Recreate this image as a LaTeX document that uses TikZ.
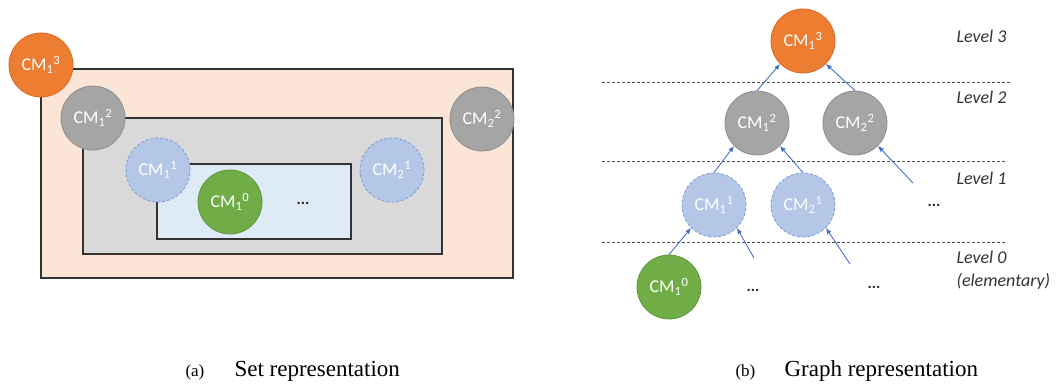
\documentclass[tikz,border=0pt]{standalone}
\usepackage{fontspec}
\setmainfont{Carlito}
\newfontfamily\capfont{Liberation Serif}
\usetikzlibrary{arrows.meta}
\definecolor{orangeF}{HTML}{ED7D31}
\definecolor{orangeD}{HTML}{D8692A}
\definecolor{greyF}{HTML}{A5A5A5}
\definecolor{greyD}{HTML}{8E8E8E}
\definecolor{greenF}{HTML}{70AD47}
\definecolor{greenD}{HTML}{5E963A}
\definecolor{blueF}{HTML}{B4C7E7}
\definecolor{blueD}{HTML}{7C9CD6}
\definecolor{peach}{HTML}{FBE5D6}
\definecolor{lgrey}{HTML}{D9D9D9}
\definecolor{lblue}{HTML}{DEEBF7}
\definecolor{arrowc}{HTML}{4472C4}
\definecolor{txtgrey}{HTML}{333333}
\newcommand{\cmlab}[2]{CM\textsubscript{#1}\textsuperscript{#2}}
\tikzset{
  cmnode/.style={circle, minimum size=64pt, inner sep=0pt, text=white, font=\fontsize{18}{21}\selectfont, line width=0.8pt},
  orangec/.style={cmnode, fill=orangeF, draw=orangeD},
  greyc/.style={cmnode, fill=greyF, draw=greyD},
  greenc/.style={cmnode, fill=greenF, draw=greenD},
  bluec/.style={cmnode, fill=blueF, draw=blueD, dashed, dash pattern=on 3pt off 2pt},
  setbox/.style={draw=txtgrey, line width=1.2pt},
  dots/.style={font=\fontsize{16}{18}\selectfont\bfseries, text=black!85},
  levellab/.style={anchor=base west, font=\fontsize{18}{21}\selectfont\itshape, text=txtgrey},
  levelline/.style={draw=txtgrey!85, line width=0.9pt, dash pattern=on 3pt off 2pt},
  arr/.style={draw=arrowc, line width=0.9pt, -{Latex[length=6pt,width=5pt]}},
  capsmall/.style={anchor=base west, font=\capfont\fontsize{17}{20}\selectfont},
  capbig/.style={anchor=base west, font=\capfont\fontsize{23}{26}\selectfont},
}
\begin{document}
\begin{tikzpicture}[x=1pt, y=-1pt]
\useasboundingbox (0,0) rectangle (1057,383);
% ---------- (a) set representation ----------
\draw[setbox, fill=peach] (41,69) rectangle (513,278);
\draw[setbox, fill=lgrey] (83,118) rectangle (442,254);
\draw[setbox, fill=lblue] (157,164) rectangle (351,239);
\node[orangec] (s13) at (41,65) {\cmlab{1}{3}};
\node[greyc] (s12) at (93,118) {\cmlab{1}{2}};
\node[greyc] (s22) at (482,119) {\cmlab{2}{2}};
\node[bluec] (s11) at (158,170) {\cmlab{1}{1}};
\node[bluec] (s21) at (392,170) {\cmlab{2}{1}};
\node[greenc] (s10) at (230,202) {\cmlab{1}{0}};
\node[dots] (sdots) at (303,203) {...};
% ---------- (b) graph representation ----------
\coordinate (l3a) at (602,82);  \coordinate (l3b) at (1012,82);
\coordinate (l2a) at (602,161); \coordinate (l2b) at (1007,161);
\coordinate (l1a) at (602,242); \coordinate (l1b) at (1007,242);
\draw[levelline] (l3a) -- (l3b);
\draw[levelline] (l2a) -- (l2b);
\draw[levelline] (l1a) -- (l1b);
\node[levellab] (lv3) at (953,42) {Level 3};
\node[levellab] (lv2) at (953,103) {Level 2};
\node[levellab] (lv1) at (953,184) {Level 1};
\node[levellab] (lv0) at (953,263) {Level 0};
\node[levellab] (lve) at (953,286) {(elementary)};
\node[orangec] (g13) at (803,41) {\cmlab{1}{3}};
\node[greyc] (g12) at (757,123) {\cmlab{1}{2}};
\node[greyc] (g22) at (855,123) {\cmlab{2}{2}};
\node[bluec] (g11) at (714,205) {\cmlab{1}{1}};
\node[bluec] (g21) at (803,205) {\cmlab{2}{1}};
\node[greenc] (g10) at (669,287) {\cmlab{1}{0}};
\node[dots] (gd1) at (934,205) {...};
\node[dots] (gd2) at (753,290) {...};
\node[dots] (gd3) at (874,287) {...};
\coordinate (f22) at (913,183);
\coordinate (f11) at (754,258);
\coordinate (f21) at (850,264);
\draw[arr] (g12.north) -- (g13.225);
\draw[arr] (g22.north) -- (g13.315);
\draw[arr] (g11.north) -- (g12.225);
\draw[arr] (g21.north) -- (g12.315);
\draw[arr] (f22) -- (g22.315);
\draw[arr] (g10.north) -- (g11.225);
\draw[arr] (f11) -- (g11.315);
\draw[arr] (f21) -- (g21.315);
% ---------- captions ----------
\node[capsmall] (capa) at (182,376) {(a)};
\node[capbig] (capat) at (231,376) {Set representation};
\node[capsmall] (capb) at (732,376) {(b)};
\node[capbig] (capbt) at (781,376) {Graph representation};
\end{tikzpicture}
\end{document}
